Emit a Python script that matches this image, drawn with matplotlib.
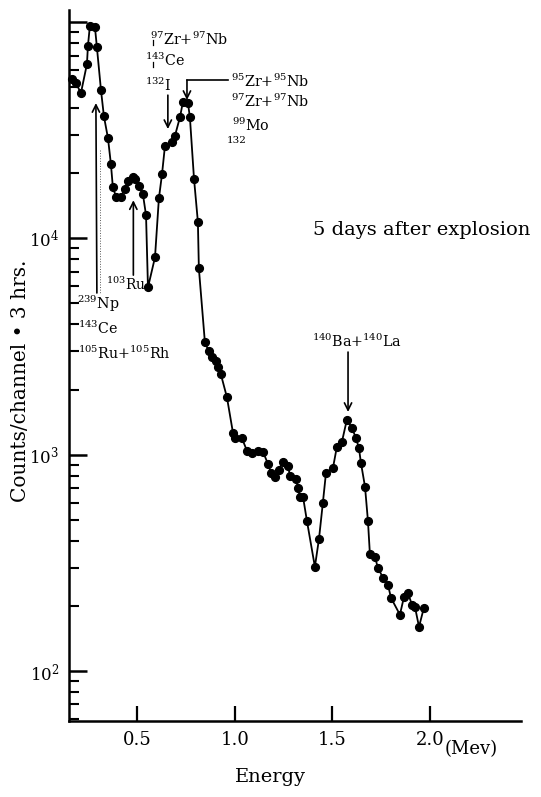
import numpy as np
import matplotlib
matplotlib.use("Agg")
import matplotlib.pyplot as plt
import matplotlib.transforms as mtransforms
from matplotlib.ticker import FixedLocator, LogLocator, NullFormatter, NullLocator

# ---- data (gamma spectrum, 5 days after explosion) ----
energy_mev = [0.164, 0.185, 0.210, 0.241, 0.246, 0.256, 0.282, 0.292, 0.313, 0.328,
              0.349, 0.364, 0.374, 0.390, 0.415, 0.436, 0.451, 0.477, 0.487, 0.508,
              0.528, 0.544, 0.554, 0.590, 0.610, 0.626, 0.641, 0.677, 0.692, 0.718,
              0.733, 0.759, 0.769, 0.790, 0.810, 0.815, 0.846, 0.867, 0.882, 0.903,
              0.913, 0.928, 0.959, 0.990, 1.000, 1.036, 1.062, 1.087, 1.118, 1.144,
              1.169, 1.185, 1.205, 1.226, 1.246, 1.272, 1.282, 1.313, 1.323, 1.333,
              1.349, 1.369, 1.410, 1.431, 1.451, 1.467, 1.503, 1.523, 1.549, 1.574,
              1.600, 1.621, 1.636, 1.646, 1.667, 1.682, 1.692, 1.718, 1.733, 1.759,
              1.785, 1.800, 1.846, 1.867, 1.887, 1.908, 1.923, 1.944, 1.969]
counts = [54500, 52200, 46900, 63900, 77400, 95800, 94800, 76600, 48400, 36700,
          29000, 22000, 17200, 15600, 15600, 16900, 18400, 19200, 18800, 17400,
          16000, 12800, 5930, 8170, 15300, 19800, 26700, 27800, 29700, 36300,
          42600, 42200, 36300, 18900, 11900, 7260, 3300, 3000, 2840, 2700,
          2530, 2350, 1840, 1260, 1190, 1190, 1040, 1020, 1040, 1030,
          908, 826, 791, 853, 929, 890, 800, 774, 703, 639,
          639, 495, 303, 408, 600, 826, 871, 1090, 1150, 1450,
          1330, 1190, 1070, 918, 711, 495, 348, 337, 300, 270,
          250, 218, 182, 220, 230, 202, 198, 160, 196]

x_ticks = [0.5, 1.0, 1.5, 2.0]
x_tick_labels = ["0.5", "1.0", "1.5", "2.0"]
y_ticks = [1e2, 1e3, 1e4, 1e5]
y_tick_labels = [r"$10^2$", r"$10^3$", r"$10^4$", ""]

plt.rcParams["font.family"] = ["DejaVu Serif", "DejaVu Sans"]
plt.rcParams["mathtext.fontset"] = "dejavuserif"

fig = plt.figure(figsize=(5.41, 7.97), dpi=100)
ax = fig.add_axes([69 / 541, 76 / 797, 452 / 541, 711 / 797])
ax.set_yscale("log")
ax.set_xlim(0.149, 2.467)
ax.set_ylim(58.7, 113650)

ax.plot(energy_mev, counts, color="black", lw=1.3, marker="o", ms=5.6,
        mfc="black", mec="black", zorder=3, clip_on=False)

# axes styling
for s in ("top", "right"):
    ax.spines[s].set_visible(False)
for s in ("left", "bottom"):
    ax.spines[s].set_linewidth(1.8)

ax.set_xticks(x_ticks)
ax.set_xticklabels(x_tick_labels)
ax.xaxis.set_minor_locator(NullLocator())
ax.yaxis.set_major_locator(FixedLocator(y_ticks))
ax.set_yticklabels(y_tick_labels)
ax.yaxis.set_minor_locator(LogLocator(base=10, subs=np.arange(2, 10), numticks=30))
ax.yaxis.set_minor_formatter(NullFormatter())
ax.tick_params(axis="y", which="major", direction="in", length=13, width=1.8,
               pad=7, labelsize=12)
ax.tick_params(axis="y", which="minor", direction="in", length=7, width=1.5)
ax.tick_params(axis="x", which="major", direction="in", length=11, width=1.6,
               pad=7, labelsize=13)

ax.set_xlabel("Energy", fontsize=14)
ax.xaxis.set_label_coords(0.445, -0.066)
ax.set_ylabel("Counts/channel \u2022 3 hrs.", fontsize=14.5)
ax.yaxis.set_label_coords(-0.086, 0.478)

trans = mtransforms.blended_transform_factory(ax.transData, ax.transAxes)
ax.text(2.075, -0.040, "(Mev)", transform=trans, fontsize=13, ha="left",
        va="center", clip_on=False)

ap = dict(arrowstyle="->", lw=1.2, color="black", shrinkA=0, shrinkB=0,
          mutation_scale=13)
fs = 10.3

# left group: 239Np, 143Ce, 105Ru+105Rh
ax.annotate("", xy=(0.287, 42200), xytext=(0.292, 5590), arrowprops=ap)
ax.plot([0.308, 0.308], [25600, 5590], color="0.35", lw=0.7, ls=":")
ax.text(0.190, 4710, r"$^{239}$Np", fontsize=fs, ha="left", va="baseline")
ax.text(0.195, 3610, r"$^{143}$Ce", fontsize=fs, ha="left", va="baseline")
ax.text(0.195, 2770, r"$^{105}$Ru+$^{105}$Rh", fontsize=fs, ha="left", va="baseline")

# 103Ru
ax.annotate("", xy=(0.479, 15000), xytext=(0.479, 6760), arrowprops=ap)
ax.text(0.338, 5770, r"$^{103}$Ru", fontsize=10, ha="left", va="baseline")

# 97Zr+97Nb / 143Ce / 132I
ax.text(0.564, 78300, r"$^{97}$Zr+$^{97}$Nb", fontsize=fs, ha="left", va="baseline")
ax.text(0.538, 62700, r"$^{143}$Ce", fontsize=fs, ha="left", va="baseline")
ax.text(0.538, 48000, r"$^{132}$I", fontsize=fs, ha="left", va="baseline")
ax.plot([0.579, 0.579], [82600, 78300], color="black", lw=0.9)
ax.plot([0.579, 0.579], [65300, 61900], color="black", lw=0.9)
ax.annotate("", xy=(0.656, 32000), xytext=(0.656, 45900), arrowprops=ap)

# 95Zr+95Nb group
ax.plot([0.964, 0.754], [53900, 53900], color="black", lw=1.2)
ax.annotate("", xy=(0.754, 43600), xytext=(0.754, 53900), arrowprops=ap)
ax.text(0.979, 50000, r"$^{95}$Zr+$^{95}$Nb", fontsize=fs, ha="left", va="baseline")
ax.text(0.979, 40400, r"$^{97}$Zr+$^{97}$Nb", fontsize=fs, ha="left", va="baseline")
ax.text(0.985, 31300, r"$^{99}$Mo", fontsize=fs, ha="left", va="baseline")
ax.text(0.960, 27600, "132", fontsize=7.5, ha="left", va="baseline")

# 140Ba+140La
ax.text(1.395, 3140, r"$^{140}$Ba+$^{140}$La", fontsize=fs, ha="left", va="baseline")
ax.annotate("", xy=(1.580, 1575), xytext=(1.580, 2980), arrowprops=ap)

ax.text(1.400, 10400, "5 days after explosion", fontsize=14, ha="left", va="baseline")

fig.savefig("out.png", dpi=100)
